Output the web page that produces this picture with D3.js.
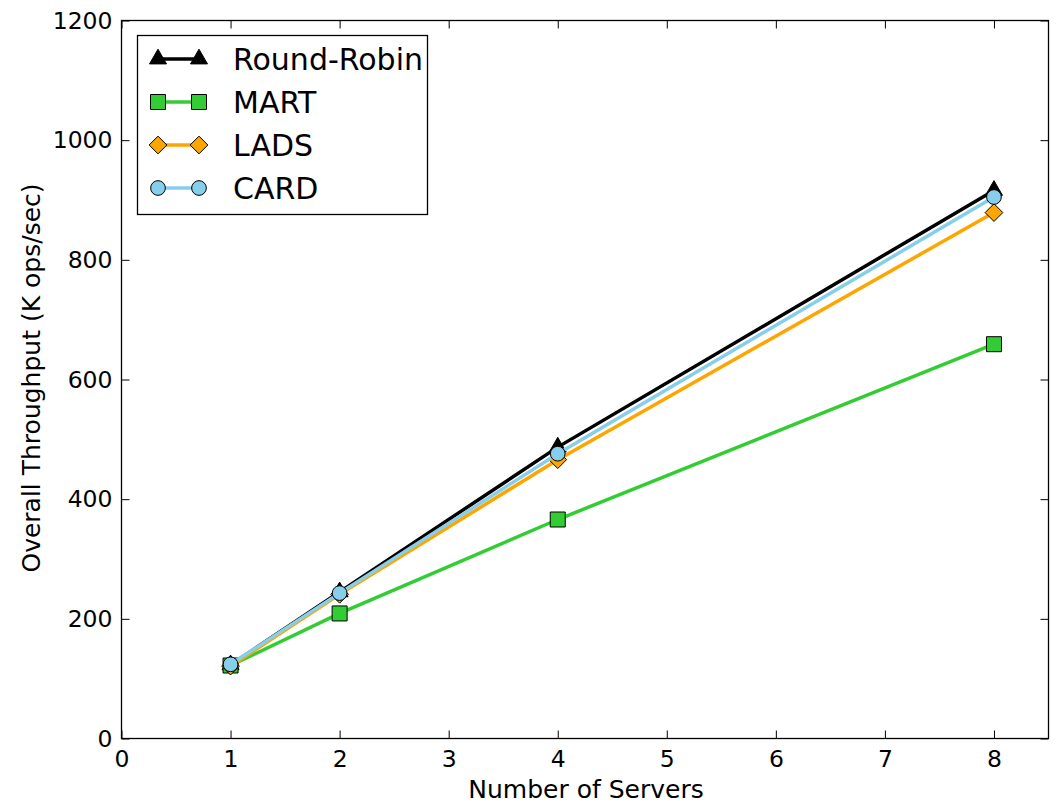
<!DOCTYPE html>
<html>
<head>
<meta charset="utf-8">
<script src="https://cdn.jsdelivr.net/npm/d3@7/dist/d3.min.js"></script>
<style>
  html, body { margin: 0; padding: 0; background: #fff; }
  svg { display: block; font-family: "DejaVu Sans", sans-serif; }
</style>
</head>
<body>
<svg id="chart" width="1060" height="803"></svg>
<script>
// Throughput measurements per load-balancing scheme
const servers = [1, 2, 4, 8];
const roundRobin = [123, 245, 487, 916];
const mart = [122, 209, 366, 659];
const lads = [121, 241, 466, 879];
const card = [124, 243, 476, 905];

const seriesNames = ["Round-Robin", "MART", "LADS", "CARD"];
const seriesColors = ["#000000", "#32cd32", "#ffa500", "#87ceeb"];
const seriesMarkers = ["triangle", "square", "diamond", "circle"];

const xTicks = [0, 1, 2, 3, 4, 5, 6, 7, 8];
const yTicks = [0, 200, 400, 600, 800, 1000, 1200];

const xLabel = "Number of Servers";
const yLabel = "Overall Throughput (K ops/sec)";

const series = [roundRobin, mart, lads, card].map((vals, i) => ({
  name: seriesNames[i],
  color: seriesColors[i],
  marker: seriesMarkers[i],
  points: servers.map((s, j) => ({ x: s, y: vals[j] }))
}));

const margin = { left: 121.5, right: 1048.5, top: 20.5, bottom: 738.5 };
const svg = d3.select("#chart");

const x = d3.scaleLinear().domain([0, 8.5]).range([margin.left, margin.right]);
const y = d3.scaleLinear().domain([0, 1200]).range([margin.bottom, margin.top]);

const tickLen = 8;
const tickFont = 23.5;

// frame
svg.append("rect")
  .attr("x", margin.left).attr("y", margin.top)
  .attr("width", margin.right - margin.left)
  .attr("height", margin.bottom - margin.top)
  .attr("fill", "none").attr("stroke", "#000").attr("stroke-width", 1.3);

// inward ticks on all four sides
const bottomAxis = d3.axisBottom(x).tickValues(xTicks).tickFormat(d3.format("d"))
  .tickSizeInner(-tickLen).tickSizeOuter(0).tickPadding(tickLen + 4);
const topAxis = d3.axisTop(x).tickValues(xTicks).tickFormat("")
  .tickSizeInner(-tickLen).tickSizeOuter(0);
const leftAxis = d3.axisLeft(y).tickValues(yTicks).tickFormat(d3.format("d"))
  .tickSizeInner(-tickLen).tickSizeOuter(0).tickPadding(tickLen + 1);
const rightAxis = d3.axisRight(y).tickValues(yTicks).tickFormat("")
  .tickSizeInner(-tickLen).tickSizeOuter(0);

function styleAxis(g) {
  g.select(".domain").remove();
  g.selectAll(".tick line").attr("stroke", "#000").attr("stroke-width", 1);
  g.selectAll(".tick text").attr("fill", "#000")
    .style("font-size", tickFont + "px")
    .style("font-family", "'DejaVu Sans', sans-serif");
}

svg.append("g").attr("transform", `translate(0,${margin.bottom})`).call(bottomAxis).call(styleAxis);
svg.append("g").attr("transform", `translate(0,${margin.top})`).call(topAxis).call(styleAxis);
svg.append("g").attr("transform", `translate(${margin.left},0)`).call(leftAxis).call(styleAxis);
svg.append("g").attr("transform", `translate(${margin.right},0)`).call(rightAxis).call(styleAxis);

// axis titles
svg.append("text")
  .attr("x", 586)
  .attr("y", 798)
  .attr("text-anchor", "middle")
  .style("font-size", "25px")
  .text(xLabel);

svg.append("text")
  .attr("transform", `translate(40,378) rotate(-90)`)
  .attr("text-anchor", "middle")
  .style("font-size", "25px")
  .text(yLabel);

// marker shapes
const symbolTypes = {
  triangle: d3.symbolTriangle,
  square: d3.symbolSquare,
  diamond: d3.symbolDiamond2,
  circle: d3.symbolCircle
};
const symbolSizes = { triangle: 125, square: 225, diamond: 200, circle: 170 };

function markerPath(kind) {
  return d3.symbol().type(symbolTypes[kind]).size(symbolSizes[kind])();
}

const line = d3.line().x(d => x(d.x)).y(d => y(d.y));

series.forEach(s => {
  const g = svg.append("g");
  g.append("path")
    .datum(s.points)
    .attr("d", line)
    .attr("fill", "none")
    .attr("stroke", s.color)
    .attr("stroke-width", 3.5);
  g.selectAll("path.marker")
    .data(s.points)
    .join("path")
    .attr("class", "marker")
    .attr("transform", d => `translate(${x(d.x)},${y(d.y)})`)
    .attr("d", markerPath(s.marker))
    .attr("fill", s.color)
    .attr("stroke", "#000")
    .attr("stroke-width", 1);
});

// legend
const legend = svg.append("g");
legend.append("rect")
  .attr("x", 137.5).attr("y", 35.5)
  .attr("width", 290).attr("height", 179)
  .attr("fill", "#fff").attr("stroke", "#000").attr("stroke-width", 1.3);

const rowY = [59, 102, 145, 188];
series.forEach((s, i) => {
  const row = legend.append("g").attr("transform", `translate(0,${rowY[i]})`);
  row.append("line")
    .attr("x1", 158).attr("x2", 199)
    .attr("stroke", s.color).attr("stroke-width", 3.5);
  [158, 199].forEach(cx => {
    row.append("path")
      .attr("transform", `translate(${cx},0)`)
      .attr("d", markerPath(s.marker))
      .attr("fill", s.color)
      .attr("stroke", "#000")
      .attr("stroke-width", 1);
  });
  row.append("text")
    .attr("x", 233).attr("y", 10.5)
    .style("font-size", "30px")
    .text(s.name);
});
</script>
</body>
</html>
